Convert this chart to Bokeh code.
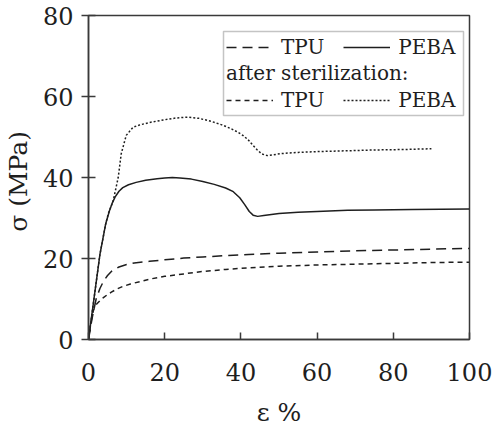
from bokeh.plotting import figure
from bokeh.models import Range1d, Legend, LegendItem, BoxAnnotation, FixedTicker
from bokeh.embed import file_html
from bokeh.resources import INLINE

# TPU (before sterilization)
tpu_x = [0, 1, 2, 3, 4, 5, 6, 8, 10, 12, 16, 20, 25, 30, 36, 42, 50, 60, 70, 80, 90, 100]
tpu_y = [0, 5.5, 10.0, 12.6, 14.5, 15.8, 16.8, 17.9, 18.5, 18.9, 19.3, 19.7, 20.1, 20.4, 20.7, 21.0, 21.3, 21.6, 21.9, 22.1, 22.3, 22.5]

# PEBA (before sterilization)
peba_x = [0, 1.5, 3, 4.5, 5.5, 6.2, 7, 8, 9, 10.5, 12.5, 15, 18, 20, 22, 24, 27, 30, 33, 36, 38, 39.7, 41, 42.2, 43.2, 44.4, 46, 50, 55, 60, 68, 75, 85, 100]
peba_y = [0, 10.5, 21.0, 28.5, 31.8, 33.6, 35.2, 36.6, 37.5, 38.2, 38.8, 39.3, 39.7, 39.9, 40.0, 39.9, 39.6, 39.0, 38.3, 37.4, 36.5, 35.0, 33.3, 31.6, 30.7, 30.4, 30.6, 31.1, 31.4, 31.6, 31.9, 32.0, 32.1, 32.2]

# TPU after sterilization
tpus_x = [0, 0.6, 1.3, 2, 3, 4, 5, 6, 7.5, 9, 11, 13.5, 16, 20, 25, 30, 36, 42, 50, 60, 70, 80, 90, 100]
tpus_y = [0, 4.0, 7.2, 8.6, 9.6, 10.4, 11.1, 11.7, 12.5, 13.1, 13.7, 14.3, 14.9, 15.6, 16.2, 16.8, 17.3, 17.7, 18.1, 18.4, 18.6, 18.8, 19.0, 19.1]

# PEBA after sterilization
pebas_x = [0, 1.5, 3, 4.5, 5.2, 6.5, 7.8, 8.6, 9.9, 11.7, 13.5, 16.1, 19.6, 23, 26.1, 29, 32.1, 35, 37.3, 39, 40.5, 41.8, 43.1, 44.3, 45.5, 47, 48.5, 50.4, 55, 60, 68, 75, 82, 90]
pebas_y = [0, 10.5, 21.0, 28.5, 31.1, 34.3, 40.0, 45.9, 50.4, 52.4, 53.0, 53.6, 54.2, 54.7, 54.9, 54.6, 53.9, 53.0, 52.1, 51.3, 50.4, 49.4, 48.0, 46.8, 45.8, 45.4, 45.6, 45.9, 46.2, 46.4, 46.6, 46.8, 46.9, 47.1]

x_ticks = [0, 20, 40, 60, 80, 100]
y_ticks = [0, 20, 40, 60, 80]

FONT = "DejaVu Serif"
INK = "#1e1e1e"
AX = "#3a3a3a"

p = figure(frame_width=381, frame_height=324,
           min_border_left=82, min_border_right=23, min_border_top=15, min_border_bottom=94,
           x_range=Range1d(0, 100), y_range=Range1d(0, 80),
           output_backend="svg", toolbar_location=None,
           background_fill_color="white", border_fill_color="white")

p.grid.visible = False
p.outline_line_color = AX
p.outline_line_width = 1.5
p.outline_line_alpha = 1.0

xa = p.xaxis[0]
xa.ticker = FixedTicker(ticks=x_ticks)
xa.minor_tick_line_color = None
xa.major_tick_in = 7
xa.major_tick_out = 0
xa.major_label_standoff = 23
xa.axis_label = "ε %"
xa.axis_label_standoff = 14

ya = p.yaxis[0]
ya.ticker = FixedTicker(ticks=y_ticks)
ya.minor_tick_line_color = None
ya.major_tick_in = 7
ya.major_tick_out = 7
ya.major_label_standoff = 8
ya.axis_label = "σ  (MPa)"
ya.axis_label_standoff = 7

for ax in (xa, ya):
    ax.axis_line_color = AX
    ax.axis_line_width = 1.5
    ax.major_tick_line_color = AX
    ax.major_tick_line_width = 1.5
    ax.major_label_text_font = FONT
    ax.major_label_text_font_size = "24px"
    ax.major_label_text_color = INK
    ax.axis_label_text_font = FONT
    ax.axis_label_text_font_size = "25px"
    ax.axis_label_text_font_style = "normal"
    ax.axis_label_text_color = INK

r_tpu = p.line(tpu_x, tpu_y, line_color=INK, line_width=1.5, line_dash="10 6")
r_peba = p.line(peba_x, peba_y, line_color=INK, line_width=1.5)
r_tpus = p.line(tpus_x, tpus_y, line_color=INK, line_width=1.5, line_dash="5 4")
r_pebas = p.line(pebas_x, pebas_y, line_color=INK, line_width=1.5, line_dash="2 2")

def style_legend(lg):
    lg.orientation = "horizontal"
    lg.border_line_color = None
    lg.background_fill_alpha = 0
    lg.padding = 0
    lg.margin = 0
    lg.spacing = 19
    lg.label_standoff = 8
    lg.glyph_width = 47
    lg.glyph_height = 20
    lg.label_height = 20
    lg.label_text_font = FONT
    lg.label_text_font_size = "20px"
    lg.label_text_color = INK
    lg.title_text_font = FONT
    lg.title_text_font_size = "20px"
    lg.title_text_font_style = "normal"
    lg.title_text_color = INK
    lg.title_standoff = 3

leg1 = Legend(items=[LegendItem(label="TPU", renderers=[r_tpu]),
                     LegendItem(label="PEBA", renderers=[r_peba])],
              location=(138, 280))
style_legend(leg1)
leg2 = Legend(items=[LegendItem(label="TPU", renderers=[r_tpus]),
                     LegendItem(label="PEBA", renderers=[r_pebas])],
              title="after sterilization:", location=(138, 227))
style_legend(leg2)
p.add_layout(leg1, "center")
p.add_layout(leg2, "center")

box = BoxAnnotation(left=135, right=375, bottom=224, top=308,
                    left_units="screen", right_units="screen",
                    bottom_units="screen", top_units="screen",
                    fill_color=None, fill_alpha=0,
                    line_color=AX, line_width=1.5)
p.add_layout(box)

open("out.html", "w").write(file_html(p, INLINE))
